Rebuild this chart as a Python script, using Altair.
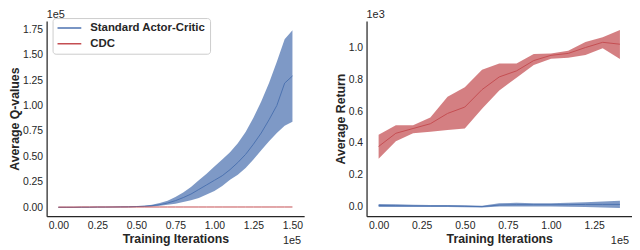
import altair as alt
import pandas as pd

FONT = "Liberation Sans"
INK = "#262626"

methods = ["Standard Actor-Critic", "CDC"]
colors = ["#4c72b0", "#c44e52"]

# ---------------- Left panel: Average Q-values (x in 1e5, y in 1e5) ----------------
q_iters = [0.0, 0.05, 0.1, 0.15, 0.2, 0.25, 0.3, 0.35, 0.4, 0.45, 0.5, 0.55, 0.6, 0.65,
           0.7, 0.75, 0.8, 0.85, 0.9, 0.95, 1.0, 1.05, 1.1, 1.15, 1.2, 1.25, 1.3, 1.35,
           1.4, 1.45, 1.5]
q_ac_mean = [0.0, 0.0, 0.0, 0.001, 0.001, 0.002, 0.002, 0.003, 0.004, 0.005, 0.007, 0.010,
             0.016, 0.026, 0.042, 0.065, 0.095, 0.13, 0.175, 0.22, 0.265, 0.31, 0.37, 0.44,
             0.52, 0.62, 0.73, 0.86, 1.0, 1.22, 1.29]
q_ac_lo = [-0.002, -0.002, -0.002, -0.001, -0.001, 0.0, 0.0, 0.0, 0.001, 0.001, 0.003, 0.005,
           0.009, 0.015, 0.024, 0.036, 0.052, 0.07, 0.092, 0.125, 0.16, 0.21, 0.27, 0.32,
           0.385, 0.47, 0.56, 0.65, 0.73, 0.80, 0.84]
q_ac_hi = [0.003, 0.003, 0.003, 0.004, 0.004, 0.005, 0.005, 0.006, 0.007, 0.009, 0.012, 0.016,
           0.025, 0.042, 0.065, 0.10, 0.145, 0.20, 0.265, 0.33, 0.40, 0.47, 0.54, 0.63,
           0.74, 0.88, 1.04, 1.22, 1.43, 1.65, 1.74]
q_cdc_mean = [0.002, 0.002, 0.002, 0.003, 0.003, 0.003, 0.003, 0.003, 0.003, 0.003, 0.003,
              0.003, 0.003, 0.003, 0.003, 0.003, 0.003, 0.003, 0.003, 0.003, 0.003, 0.003,
              0.003, 0.003, 0.003, 0.003, 0.003, 0.003, 0.003, 0.003, 0.003]
q_cdc_lo = [0.001, 0.001, 0.001, 0.002, 0.002, 0.002, 0.002, 0.002, 0.002, 0.002, 0.002,
            0.002, 0.002, 0.002, 0.002, 0.002, 0.002, 0.002, 0.002, 0.002, 0.002, 0.002,
            0.002, 0.002, 0.002, 0.002, 0.002, 0.002, 0.002, 0.002, 0.002]
q_cdc_hi = [0.003, 0.003, 0.003, 0.004, 0.004, 0.004, 0.004, 0.004, 0.004, 0.004, 0.004,
            0.004, 0.004, 0.004, 0.004, 0.004, 0.004, 0.004, 0.004, 0.004, 0.004, 0.004,
            0.004, 0.004, 0.004, 0.004, 0.004, 0.004, 0.004, 0.004, 0.004]
q_xticks = [0.0, 0.25, 0.5, 0.75, 1.0, 1.25, 1.5]
q_yticks = [0.0, 0.25, 0.5, 0.75, 1.0, 1.25, 1.5, 1.75]

# ---------------- Right panel: Average Return (x in 1e5, y in 1e3) ----------------
r_iters = [0.0, 0.1, 0.2, 0.3, 0.4, 0.5, 0.6, 0.7, 0.8, 0.9, 1.0, 1.1, 1.2, 1.3, 1.4]
r_cdc_mean = [0.377, 0.46, 0.49, 0.52, 0.585, 0.625, 0.735, 0.815, 0.853, 0.918, 0.951,
              0.963, 1.0, 1.033, 1.021]
r_cdc_lo = [0.30, 0.41, 0.46, 0.47, 0.48, 0.49, 0.615, 0.73, 0.81, 0.89, 0.93, 0.935,
            0.953, 0.996, 0.928]
r_cdc_hi = [0.45, 0.51, 0.51, 0.56, 0.69, 0.75, 0.86, 0.90, 0.90, 0.96, 0.963, 0.98,
            1.035, 1.065, 1.11]
r_ac_mean = [0.005, 0.004, 0.003, 0.002, 0.002, 0.0, -0.002, 0.008, 0.01, 0.01, 0.01,
             0.01, 0.012, 0.012, 0.012]
r_ac_lo = [-0.005, -0.005, -0.004, -0.004, -0.004, -0.006, -0.007, -0.002, -0.002, -0.002,
           -0.002, -0.003, -0.004, -0.008, -0.01]
r_ac_hi = [0.015, 0.013, 0.01, 0.008, 0.008, 0.006, 0.003, 0.02, 0.022, 0.02, 0.02, 0.022,
           0.025, 0.03, 0.035]
r_xticks = [0.0, 0.25, 0.5, 0.75, 1.0, 1.25]
r_yticks = [0.0, 0.2, 0.4, 0.6, 0.8, 1.0]


def frame(x, series):
    rows = []
    for k, (name, (m, lo, hi)) in enumerate(series.items()):
        for i in range(len(x)):
            rows.append({"x": x[i], "mean": m[i], "lo": lo[i], "hi": hi[i],
                         "method": name, "k": k})
    return pd.DataFrame(rows)


q_df = frame(q_iters, {"Standard Actor-Critic": (q_ac_mean, q_ac_lo, q_ac_hi),
                       "CDC": (q_cdc_mean, q_cdc_lo, q_cdc_hi)})
r_df = frame(r_iters, {"Standard Actor-Critic": (r_ac_mean, r_ac_lo, r_ac_hi),
                       "CDC": (r_cdc_mean, r_cdc_lo, r_cdc_hi)})


def text_layer(label, x, y, align, baseline):
    return alt.Chart(pd.DataFrame({"t": [label]})).mark_text(
        align=align, baseline=baseline, font=FONT, fontSize=11, color=INK
    ).encode(x=alt.value(x), y=alt.value(y), text="t:N")


def panel(df, xdom, ydom, xticks, yticks, xfmt, yfmt, ytitle, w, h, legend, top_label):
    xscale = alt.Scale(domain=xdom, nice=False, zero=False)
    yscale = alt.Scale(domain=ydom, nice=False, zero=False)
    xaxis = alt.Axis(values=xticks, format=xfmt, title="Training Iterations", labelOverlap=False)
    yaxis = alt.Axis(values=yticks, format=yfmt, title=ytitle, labelOverlap=False)
    # band colours: same mapping, listed in reverse so this scale stays separate from the legend
    fscale = alt.Scale(domain=methods[::-1], range=colors[::-1])
    sscale = alt.Scale(domain=methods, range=colors)
    area = alt.Chart(df).mark_area(opacity=0.72, line=False).encode(
        x=alt.X("x:Q", scale=xscale, axis=xaxis),
        y=alt.Y("lo:Q", scale=yscale, axis=yaxis),
        y2="hi:Q",
        fill=alt.Fill("method:N", scale=fscale, legend=None),
    )
    if legend is not None:
        stroke = alt.Stroke("method:N", scale=sscale, sort=methods, legend=legend)
    else:
        stroke = alt.Stroke("method:N", scale=sscale, legend=None)
    line = alt.Chart(df).mark_line(strokeWidth=1).encode(
        x=alt.X("x:Q", scale=xscale, axis=xaxis),
        y=alt.Y("mean:Q", scale=yscale, axis=yaxis),
        order=alt.Order("k:Q"),
        stroke=stroke,
    )
    layers = [area, line,
              text_layer(top_label, 0, -3, "left", "alphabetic"),
              text_layer("1e5", w - 3, h + 25, "right", "middle")]
    return alt.layer(*layers).properties(width=w, height=h)


leg = alt.Legend(
    orient="none", legendX=6, legendY=-3, title="",
    symbolType="stroke", symbolSize=576, symbolStrokeWidth=1.5, symbolOpacity=1,
    labelFont=FONT, labelFontSize=11.5, labelFontWeight="bold", labelColor=INK,
    fillColor="white", strokeColor="#cccccc", cornerRadius=3, padding=4,
    rowPadding=4, labelOffset=8, clipHeight=12,
)

left = panel(q_df, [-0.075, 1.575], [-0.087, 1.83], q_xticks, q_yticks, ".2f", ".2f",
             "Average Q-values", 260, 197, leg, "1e5")
right = panel(r_df, [-0.07, 1.47], [-0.062, 1.167], r_xticks, r_yticks, ".2f", ".1f",
              "Average Return", 268, 197, None, "1e3")

chart = alt.hconcat(left, right, spacing=30).resolve_scale(
    fill="independent", stroke="independent"
).resolve_legend(stroke="independent").configure_axis(
    grid=False, ticks=False, domainColor=INK, domainWidth=1.25,
    labelFont=FONT, labelFontSize=10.5, labelColor=INK,
    titleFont=FONT, titleFontSize=12.4, titleFontWeight="bold", titleColor=INK,
).configure_axisY(titlePadding=1, labelPadding=4).configure_axisX(
    titlePadding=2, labelPadding=4
).configure_view(
    strokeWidth=0
).properties(padding={"left": 0, "top": 0, "right": 0, "bottom": 0})

chart.save("out.html", embed_options={"renderer": "svg", "actions": False})
